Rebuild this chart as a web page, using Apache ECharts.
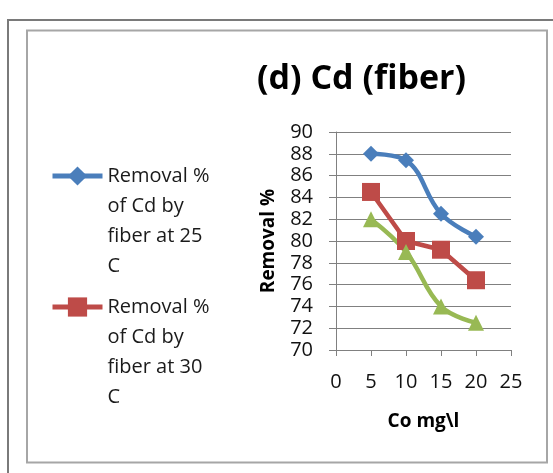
<!DOCTYPE html>
<html>
<head>
<meta charset="utf-8">
<script src="https://cdn.jsdelivr.net/npm/echarts@6/dist/echarts.min.js"></script>
<style>
html,body{margin:0;padding:0;background:#fff;}
#c{width:553px;height:473px;}
</style>
</head>
<body>
<div id="c"></div>
<script>
var xValues = [5, 10, 15, 20];
var series25 = [88.0, 87.4, 82.5, 80.4];
var series30 = [84.5, 80.0, 79.2, 76.4];
var series35 = [82.0, 79.0, 74.0, 72.5];
var name25 = 'Removal %\nof Cd by\nfiber at 25\nC';
var name30 = 'Removal %\nof Cd by\nfiber at 30\nC';
var name35 = 'Removal %\nof Cd by\nfiber at 35\nC';
var yTicks = {min: 70, max: 90, interval: 2};
var xTicks = {min: 0, max: 25, interval: 5};

function pairs(vals) { return xValues.map(function (x, i) { return [x, vals[i]]; }); }

var FONT = 'Open Sans';
var chart = echarts.init(document.getElementById('c'));
var legendText = {fontFamily: FONT, fontSize: 20, color: '#1a1a1a', lineHeight: 30};
function legendFmt(n) { return '\n\n\n' + n; }
chart.setOption({
  animation: false,
  textStyle: {fontFamily: FONT},
  title: {
    text: '(d) Cd (fiber)', left: 252, top: 57,
    textStyle: {fontFamily: FONT, fontSize: 34, fontWeight: 'bold', color: '#000'}
  },
  graphic: [
    {type: 'rect', shape: {x: 8, y: 20, width: 560, height: 470}, style: {fill: 'none', stroke: '#7a7a7a', lineWidth: 2}, silent: true},
    {type: 'rect', shape: {x: 27, y: 30.5, width: 520, height: 432}, style: {fill: 'none', stroke: '#a6a6a6', lineWidth: 2}, silent: true}
  ],
  legend: [
    {data: [name25], formatter: legendFmt, left: 50, top: 71, padding: 0, itemWidth: 50, itemHeight: 24,
     lineStyle: {width: 5}, textStyle: legendText},
    {data: [name30], formatter: legendFmt, left: 50, top: 202, padding: 0, itemWidth: 50, itemHeight: 24,
     lineStyle: {width: 5}, textStyle: legendText}
  ],
  grid: {left: 336, right: 42, top: 132, bottom: 123},
  xAxis: {
    type: 'value', min: xTicks.min, max: xTicks.max, interval: xTicks.interval,
    name: 'Co mg\\l', nameLocation: 'middle', nameGap: 62,
    nameTextStyle: {fontFamily: FONT, fontSize: 19, fontWeight: 'bold', color: '#000'},
    axisLine: {show: true, lineStyle: {color: '#808080', width: 1}},
    axisTick: {show: true, length: 6, lineStyle: {color: '#808080'}},
    axisLabel: {fontFamily: FONT, fontSize: 20, color: '#111', margin: 22},
    splitLine: {show: false}
  },
  yAxis: {
    type: 'value', min: yTicks.min, max: yTicks.max, interval: yTicks.interval,
    name: 'Removal %', nameLocation: 'middle', nameGap: 58, nameRotate: 90,
    nameTextStyle: {fontFamily: FONT, fontSize: 19, fontWeight: 'bold', color: '#000'},
    axisLine: {show: true, lineStyle: {color: '#808080', width: 1}},
    axisTick: {show: true, length: 7, lineStyle: {color: '#808080'}},
    axisLabel: {fontFamily: FONT, fontSize: 20, color: '#111', margin: 23},
    splitLine: {show: true, lineStyle: {color: '#808080', width: 1}}
  },
  series: [
    {name: name25, type: 'line', data: pairs(series25), smooth: 0.4, symbol: 'diamond', symbolSize: 16,
     lineStyle: {color: '#4A7EBB', width: 4.5}, itemStyle: {color: '#4A7EBB'}},
    {name: name30, type: 'line', data: pairs(series30), smooth: false, symbol: 'rect', symbolSize: 18,
     lineStyle: {color: '#BE4B48', width: 4.5}, itemStyle: {color: '#BE4B48'}},
    {name: name35, type: 'line', data: pairs(series35), smooth: 0.4, symbol: 'triangle', symbolSize: 16,
     lineStyle: {color: '#98B954', width: 4.5}, itemStyle: {color: '#98B954'}}
  ]
});
</script>
</body>
</html>
